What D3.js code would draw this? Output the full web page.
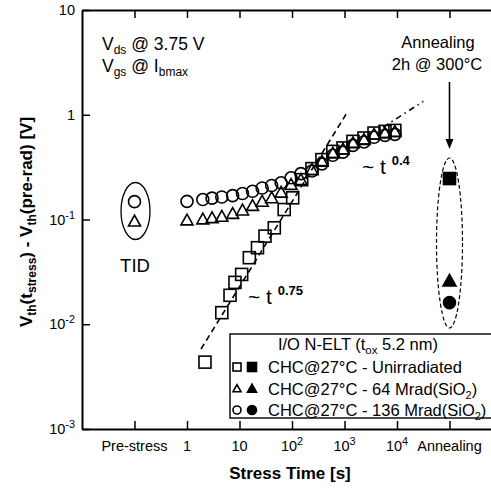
<!DOCTYPE html>
<html>
<head>
<meta charset="utf-8">
<script src="https://cdn.jsdelivr.net/npm/d3@7"></script>
<style>
  body { margin: 0; background: #fff; }
  svg { display: block; font-family: "Liberation Sans", Arial, sans-serif; }
</style>
</head>
<body>
<script>
// Stress times [s] shared by the irradiated devices
const stressTime = [1, 2, 3, 4.6, 7.4, 11.4, 17.7, 27, 41, 62, 96, 148, 240, 372, 600, 935, 1450, 2350, 3650, 5900, 9100];
// 136 Mrad(SiO2) device, threshold-voltage shift [V]
const dvth136 = [0.149, 0.155, 0.160, 0.164, 0.169, 0.177, 0.186, 0.200, 0.211, 0.224, 0.250, 0.274, 0.29, 0.34, 0.41, 0.44, 0.51, 0.55, 0.61, 0.635, 0.65];
// 64 Mrad(SiO2) device
const dvth64 = [0.0989, 0.101, 0.104, 0.107, 0.114, 0.123, 0.136, 0.149, 0.161, 0.182, 0.216, 0.240, 0.299, 0.36, 0.43, 0.47, 0.54, 0.58, 0.65, 0.67, 0.69];
// Unirradiated device (own time grid)
const stressTimeUnirr = [2.2, 4.6, 6.6, 8.2, 11, 15.4, 22, 30.6, 46, 71, 103, 153, 240, 372, 600, 935, 1450, 2350, 3650, 5900, 9100];
const dvthUnirr = [0.00435, 0.0129, 0.0189, 0.0251, 0.0299, 0.0432, 0.0538, 0.0694, 0.0833, 0.1245, 0.161, 0.240, 0.306, 0.373, 0.447, 0.482, 0.557, 0.600, 0.669, 0.694, 0.709];

// Pre-stress (TID only) and post-annealing values
const preStressT = 0.1;
const annealT = 1e5;
const tid136 = 0.148, tid64 = 0.0964;
const anneal = { unirr: 0.246, m64: 0.026, m136: 0.0161 };

// Power-law guide lines: [time, value] end points
const fit075 = [[1.85, 0.0058], [1175, 1.09]];
const fit04 = [[5410, 0.76], [31700, 1.34]];

// Axis ticks
const xTickValues = [0.1, 1, 10, 100, 1000, 1e4, 1e5];
const xTickLabels = [["Pre-stress", ""], ["1", ""], ["10", ""], ["10", "2"], ["10", "3"], ["10", "4"], ["Annealing", ""]];
const yTickValues = [1e-3, 1e-2, 1e-1, 1, 10];
const yTickLabels = [["10", "-3"], ["10", "-2"], ["10", "-1"], ["1", ""], ["10", ""]];

const legendRows = [
  { sym: "square", label: ["CHC@27°C - Unirradiated"] },
  { sym: "triangle", label: ["CHC@27°C - 64 Mrad(SiO", "2", ")"] },
  { sym: "circle", label: ["CHC@27°C - 136 Mrad(SiO", "2", ")"] }
];

const W = 491, H = 489;
const svg = d3.select("body").append("svg").attr("width", W).attr("height", H);

const x = d3.scaleLog().domain([0.01, 1e6]).range([82, 502]);
const y = d3.scaleLog().domain([1e-3, 10]).range([429, 10]);

// Axes (ticks point inward)
function styleAxis(g) {
  g.select(".domain").attr("stroke", "#000").attr("stroke-width", 2);
  g.selectAll(".tick line").attr("stroke", "#000").attr("stroke-width", 1.5);
  g.selectAll(".tick text").remove();
}
svg.append("g").attr("transform", "translate(0,429)")
  .call(d3.axisBottom(x).tickValues(xTickValues).tickSizeInner(-8).tickSizeOuter(0).tickFormat(() => ""))
  .call(styleAxis);
svg.append("g").attr("transform", "translate(0,10)")
  .call(d3.axisTop(x).tickValues(xTickValues).tickSizeInner(-8).tickSizeOuter(0).tickFormat(() => ""))
  .call(styleAxis);
svg.append("g").attr("transform", "translate(82,0)")
  .call(d3.axisLeft(y).tickValues(yTickValues).tickSizeInner(-8).tickSizeOuter(0).tickFormat(() => ""))
  .call(styleAxis);

// Tick labels with superscripts
function supText(sel, parts, size) {
  sel.append("tspan").text(parts[0]);
  if (parts[1]) sel.append("tspan").attr("dy", -size * 0.4).attr("font-size", size * 0.75).text(parts[1]);
}
xTickValues.forEach((v, i) => {
  const t = svg.append("text").attr("x", x(v)).attr("y", 451)
    .attr("text-anchor", "middle").attr("font-size", 14.5);
  supText(t, xTickLabels[i], 14.5);
});
yTickValues.forEach((v, i) => {
  const t = svg.append("text").attr("x", 75).attr("y", y(v) + 5)
    .attr("text-anchor", "end").attr("font-size", 14.5);
  supText(t, yTickLabels[i], 14.5);
});

// Axis titles
svg.append("text").attr("x", 290).attr("y", 479).attr("text-anchor", "middle")
  .attr("font-size", 17).attr("font-weight", "bold").text("Stress Time [s]");
const yt = svg.append("text").attr("transform", "translate(32,222) rotate(-90)")
  .attr("text-anchor", "middle").attr("font-size", 17).attr("font-weight", "bold");
yt.append("tspan").text("V");
yt.append("tspan").attr("font-size", 12).attr("dy", 4).text("th");
yt.append("tspan").attr("dy", -4).text("(t");
yt.append("tspan").attr("font-size", 12).attr("dy", 4).text("stress");
yt.append("tspan").attr("dy", -4).text(") - V");
yt.append("tspan").attr("font-size", 12).attr("dy", 4).text("th");
yt.append("tspan").attr("dy", -4).text("(pre-rad) [V]");

// Guide lines
const line = d3.line().x(d => x(d[0])).y(d => y(d[1]));
svg.append("path").attr("d", line(fit075)).attr("fill", "none")
  .attr("stroke", "#000").attr("stroke-width", 1.6).attr("stroke-dasharray", "6,4");
svg.append("path").attr("d", line(fit04)).attr("fill", "none")
  .attr("stroke", "#000").attr("stroke-width", 1.6).attr("stroke-dasharray", "6,4,1.5,4");

// Marker drawing
function drawMarker(g, sym, cx, cy, s, filled) {
  const fill = filled ? "#000" : "none";
  if (sym === "square") {
    g.append("rect").attr("x", cx - s / 2).attr("y", cy - s / 2).attr("width", s).attr("height", s)
      .attr("fill", fill).attr("stroke", "#000").attr("stroke-width", 1.6);
  } else if (sym === "triangle") {
    const h = s * 0.9;
    g.append("path").attr("d", `M${cx},${cy - h * 0.55}L${cx + s / 2},${cy + h * 0.45}L${cx - s / 2},${cy + h * 0.45}Z`)
      .attr("fill", fill).attr("stroke", "#000").attr("stroke-width", 1.6);
  } else {
    g.append("circle").attr("cx", cx).attr("cy", cy).attr("r", s / 2)
      .attr("fill", fill).attr("stroke", "#000").attr("stroke-width", 1.6);
  }
}

const marks = svg.append("g");
stressTime.forEach((t, i) => drawMarker(marks, "circle", x(t), y(dvth136[i]), 12, false));
stressTime.forEach((t, i) => drawMarker(marks, "triangle", x(t), y(dvth64[i]), 12, false));
stressTimeUnirr.forEach((t, i) => drawMarker(marks, "square", x(t), y(dvthUnirr[i]), 12, false));

// Pre-stress TID points
drawMarker(marks, "circle", x(preStressT), y(tid136), 12, false);
drawMarker(marks, "triangle", x(preStressT), y(tid64), 12, false);
svg.append("ellipse").attr("cx", x(preStressT) + 1).attr("cy", 211).attr("rx", 14.5).attr("ry", 28.5)
  .attr("fill", "none").attr("stroke", "#000").attr("stroke-width", 1.3);
svg.append("text").attr("x", 135).attr("y", 272).attr("text-anchor", "middle")
  .attr("font-size", 18.5).text("TID");

// Annealed points
drawMarker(marks, "square", x(annealT), y(anneal.unirr), 12, true);
drawMarker(marks, "triangle", x(annealT), y(anneal.m64), 13, true);
drawMarker(marks, "circle", x(annealT), y(anneal.m136), 12, true);
svg.append("ellipse").attr("cx", x(annealT)).attr("cy", 243).attr("rx", 13).attr("ry", 85)
  .attr("fill", "none").attr("stroke", "#000").attr("stroke-width", 1.2).attr("stroke-dasharray", "4,2.5");

// Annealing annotation with arrow
svg.append("text").attr("x", 438).attr("y", 48).attr("text-anchor", "middle").attr("font-size", 16.5).text("Annealing");
svg.append("text").attr("x", 437).attr("y", 70).attr("text-anchor", "middle").attr("font-size", 16.5).text("2h @ 300°C");
svg.append("line").attr("x1", x(annealT)).attr("x2", x(annealT)).attr("y1", 82).attr("y2", 140)
  .attr("stroke", "#000").attr("stroke-width", 1.6);
svg.append("path").attr("d", `M${x(annealT) - 4},139L${x(annealT) + 4},139L${x(annealT)},149Z`).attr("fill", "#000");

// Bias conditions
const v1 = svg.append("text").attr("x", 102).attr("y", 50).attr("font-size", 17.5);
v1.append("tspan").text("V");
v1.append("tspan").attr("font-size", 12).attr("dy", 4).text("ds");
v1.append("tspan").attr("dy", -4).text(" @ 3.75 V");
const v2 = svg.append("text").attr("x", 102).attr("y", 72).attr("font-size", 17.5);
v2.append("tspan").text("V");
v2.append("tspan").attr("font-size", 12).attr("dy", 4).text("gs");
v2.append("tspan").attr("dy", -4).text(" @ I");
v2.append("tspan").attr("font-size", 12).attr("dy", 4).text("bmax");

// Slope labels
const s1 = svg.append("text").attr("x", 362).attr("y", 174).attr("font-size", 21);
s1.append("tspan").text("~ t ");
s1.append("tspan").attr("font-size", 13).attr("font-weight", "bold").attr("dy", -9).text("0.4");
const s2 = svg.append("text").attr("x", 248).attr("y", 304).attr("font-size", 21);
s2.append("tspan").text("~ t ");
s2.append("tspan").attr("font-size", 13).attr("font-weight", "bold").attr("dy", -9).text("0.75");

// Legend
const lg = svg.append("g");
lg.append("rect").attr("x", 230).attr("y", 334).attr("width", 280).attr("height", 84)
  .attr("fill", "#fff").attr("stroke", "#000").attr("stroke-width", 1.4);
const lt = lg.append("text").attr("x", 358).attr("y", 350).attr("text-anchor", "middle").attr("font-size", 16.5);
lt.append("tspan").text("I/O N-ELT (t");
lt.append("tspan").attr("font-size", 11.5).attr("dy", 4).text("ox");
lt.append("tspan").attr("dy", -4).text(" 5.2 nm)");
legendRows.forEach((r, i) => {
  const by = 373 + i * 21.5;
  drawMarker(lg, r.sym, 237, by - 6, 8, false);
  drawMarker(lg, r.sym, 252, by - 6, 9, true);
  const t = lg.append("text").attr("x", 268).attr("y", by).attr("font-size", 16.5);
  t.append("tspan").text(r.label[0]);
  if (r.label[1]) {
    t.append("tspan").attr("font-size", 11).attr("dy", 4).text(r.label[1]);
    t.append("tspan").attr("dy", -4).text(r.label[2]);
  }
});
</script>
</body>
</html>
